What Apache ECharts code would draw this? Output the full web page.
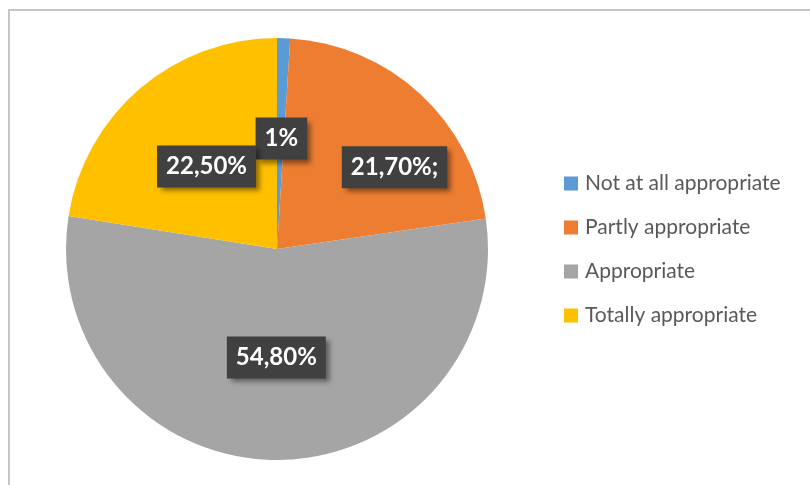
<!DOCTYPE html>
<html>
<head>
<meta charset="utf-8">
<script src="https://cdn.jsdelivr.net/npm/echarts@6/dist/echarts.min.js"></script>
<style>
  html, body { margin: 0; padding: 0; background: #fff; }
  #chart { width: 810px; height: 485px; }
  #frame {
    position: absolute; left: 8px; top: 9px; width: 900px; height: 600px;
    border-left: 2px solid #c6c6c6; border-top: 2px solid #c6c6c6;
    pointer-events: none;
  }
</style>
</head>
<body>
<div id="chart"></div>
<div id="frame"></div>
<script>
// Data
const categories = ['Not at all appropriate', 'Partly appropriate', 'Appropriate', 'Totally appropriate'];
const values = [1, 21.7, 54.8, 22.5];
const labels = ['1%', '21,70%;', '54,80%', '22,50%'];
const colors = ['#5B9BD5', '#ED7D31', '#A5A5A5', '#FFC000'];

const chart = echarts.init(document.getElementById('chart'));

const labelBox = {
    show: true,
    position: 'inside',
    color: '#fff',
    fontFamily: 'Lato',
    fontWeight: 'bold',
    fontSize: 24,
    backgroundColor: '#404040',
    padding: [10, 9, 8, 9],
    shadowColor: 'rgba(0,0,0,0.45)',
    shadowBlur: 5,
    shadowOffsetX: 4,
    shadowOffsetY: 4
};

const pieData = categories.map((name, i) => {
    const item = {
        name: name,
        value: values[i],
        itemStyle: { color: colors[i] },
        label: Object.assign({}, labelBox, { formatter: labels[i] })
    };
    if (i === 1) item.label.offset = [44, -2];
    if (i === 0) item.label.offset = [1, -2];
    return item;
});

chart.setOption({
    backgroundColor: '#fff',
    animation: false,
    legend: {
        orient: 'vertical',
        left: 559,
        top: 168,
        itemWidth: 14,
        itemHeight: 14,
        itemGap: 23,
        icon: 'rect',
        data: categories,
        textStyle: { color: '#595959', fontFamily: 'Lato', fontSize: 21, padding: [0, 0, 0, 2] }
    },
    series: [{
        type: 'pie',
        center: [277, 249],
        radius: 211,
        startAngle: 90,
        clockwise: true,
        avoidLabelOverlap: false,
        label: labelBox,
        labelLayout: { hideOverlap: false },
        labelLine: { show: false },
        itemStyle: { borderWidth: 0 },
        emphasis: { disabled: true },
        data: pieData
    }]
});
</script>
</body>
</html>
